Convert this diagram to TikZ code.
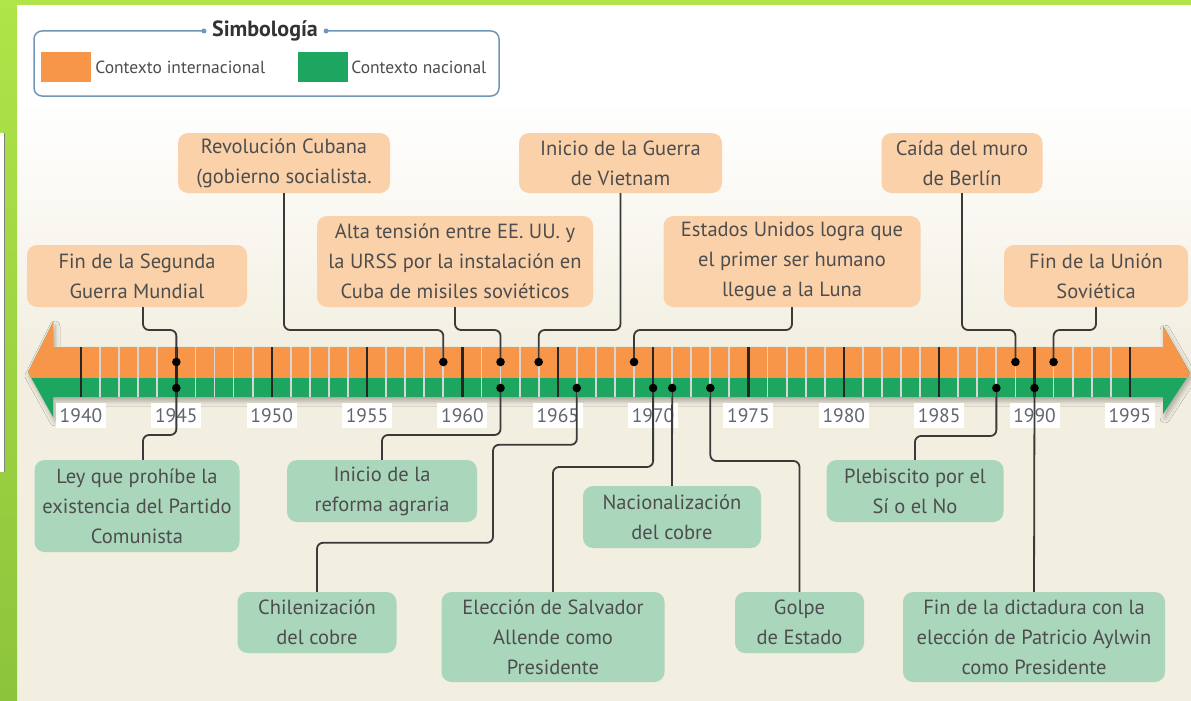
\documentclass[tikz,border=0pt]{standalone}
\usepackage{fontspec}
\setmainfont{PT Sans}
\usetikzlibrary{positioning,shadows.blur}

\definecolor{naranja}{RGB}{247,150,72}
\definecolor{verde}{RGB}{29,166,96}
\definecolor{durazno}{RGB}{251,209,170}
\definecolor{menta}{RGB}{170,214,188}
\definecolor{crema}{RGB}{242,238,224}
\definecolor{lima}{RGB}{176,228,72}
\definecolor{limaosc}{RGB}{140,196,60}
\definecolor{texto}{RGB}{77,77,77}
\definecolor{marco}{RGB}{112,150,185}
\definecolor{linea}{RGB}{58,58,58}
\definecolor{gris}{RGB}{214,214,214}
\definecolor{anios}{RGB}{100,100,112}

\tikzset{
    internacional/.style={fill=durazno, rounded corners=10pt, align=center, inner sep=0pt,
        text=texto, font=\fontsize{20.5}{30}\selectfont},
    nacional/.style={internacional, fill=menta},
    conector/.style={draw=linea, line width=1.8pt, rounded corners=6pt},
    rejilla/.style={draw=gris, line width=1.8pt},
    hito/.style={draw=black!85, line width=2.4pt},
    anio/.style={fill=white, minimum width=50pt, minimum height=25pt, inner sep=0pt,
        text=anios, font=\fontsize{19.5}{20}\selectfont},
    cuadro/.style={minimum width=50pt, minimum height=30pt, inner sep=0pt},
}

\begin{document}
\begin{tikzpicture}[x=1pt,y=-1pt]
            \useasboundingbox (0,0) rectangle (1191,701);
            \fill[white] (0,0) rectangle (1191,701);
            \shade[top color=white, bottom color=crema] (17,100) rectangle (1191,360);
            \fill[crema] (17,360) rectangle (1191,701);
            \shade[top color=lima, bottom color=limaosc] (0,0) rectangle (17,701);
            \fill[lima] (0,0) rectangle (1191,5);
            \fill[white] (0,133) rectangle (4,472);
            \draw[gray, line width=0.8pt] (4,133) -- (4,472);

            % simbologia
            \draw[marco, line width=1.5pt, rounded corners=8pt] (34,31) rectangle (499,96);
            \node[fill=white, inner xsep=8pt, inner ysep=2pt, text=black!80,
                font=\fontsize{22}{24}\bfseries] (titulo) at (265,31) {Simbología};
            \fill[marco] (titulo.west) circle[radius=2.5pt] (titulo.east) circle[radius=2.5pt];
            \node[cuadro, fill=naranja] (cint) at (66,67) {};
            \node[right=4pt of cint, inner sep=0pt, text=texto, font=\fontsize{17.5}{20}\selectfont] (tint) {Contexto internacional};
            \node[cuadro, fill=verde] (cnac) at (323,67) {};
            \node[right=3pt of cnac, inner sep=0pt, text=texto, font=\fontsize{17.5}{20}\selectfont] (tnac) {Contexto nacional};

            % flecha
            \fill[verde, blur shadow={shadow xshift=2pt, shadow yshift=-4pt, shadow blur radius=5pt, shadow opacity=30}]
                (28,372) -- (53,322) -- (53,347) -- (1163,347) -- (1163,326) -- (1190,373)
                -- (1163,414) -- (1163,397) -- (53,397) -- (53,417) -- cycle;
            \begin{scope}
                \clip (0,0) rectangle (1191,377);
                \fill[naranja] (28,372) -- (53,322) -- (53,347) -- (1163,347) -- (1163,326) -- (1190,373)
                    -- (1163,414) -- (1163,397) -- (53,397) -- (53,417) -- cycle;
            \end{scope}
            \foreach \a in {1941,...,1994}
                \draw[rejilla] ({81+(\a-1940)*19.07},347) -- ++(0,50);
            \foreach \a in {1940,1945,...,1995} {
                \draw[hito] ({81+(\a-1940)*19.07},347) -- ++(0,50);
                \node[anio] (a\a) at ({81+(\a-1940)*19.07},415.5) {\a};
            }
            \foreach \a in {1945,1959,1962,1964,1969,1989,1991}
                \coordinate (i\a) at ({81+(\a-1940)*19.07},362);
            \foreach \a in {1945,1962,1966,1970,1971,1973,1988,1990}
                \coordinate (n\a) at ({81+(\a-1940)*19.07},388);

            % contexto internacional
            \node[internacional, minimum width=220pt, minimum height=62pt] (segunda) at (137,276) {Fin de la Segunda\\Guerra Mundial};
            \node[internacional, minimum width=212pt, minimum height=60pt] (cubana) at (284,163) {Revolución Cubana\\(gobierno socialista.};
            \node[internacional, minimum width=276pt, minimum height=91pt] (tension) at (455,261.5) {Alta tensión entre EE. UU. y\\la URSS por la instalación en\\Cuba de misiles soviéticos};
            \node[internacional, minimum width=203pt, minimum height=60pt] (vietnam) at (620.5,163) {Inicio de la Guerra\\de Vietnam};
            \node[internacional, minimum width=257pt, minimum height=91pt] (luna) at (792,261.5) {Estados Unidos logra que\\el primer ser humano\\llegue a la Luna};
            \node[internacional, minimum width=161pt, minimum height=60pt] (berlin) at (962,163) {Caída del muro\\de Berlín};
            \node[internacional, minimum width=184pt, minimum height=62pt] (urss) at (1096,276) {Fin de la Unión\\Soviética};

            % contexto nacional
            \node[nacional, minimum width=205pt, minimum height=92pt] (ley) at (137,506) {Ley que prohíbe la\\existencia del Partido\\Comunista};
            \node[nacional, minimum width=190pt, minimum height=62pt] (agraria) at (382,491) {Inicio de la\\reforma agraria};
            \node[nacional, minimum width=159pt, minimum height=61pt] (chile) at (317,622.5) {Chilenización\\del cobre};
            \node[nacional, minimum width=223pt, minimum height=90pt] (allende) at (553,637) {Elección de Salvador\\Allende como\\Presidente};
            \node[nacional, minimum width=178pt, minimum height=62pt] (cobre) at (672,517) {Nacionalización\\del cobre};
            \node[nacional, minimum width=129pt, minimum height=61pt] (golpe) at (799.5,622.5) {Golpe\\de Estado};
            \node[nacional, minimum width=177pt, minimum height=62pt] (plebiscito) at (915,491) {Plebiscito por el\\Sí o el No};
            \node[nacional, minimum width=262pt, minimum height=90pt] (aylwin) at (1034,637) {Fin de la dictadura con la\\elección de Patricio Aylwin\\como Presidente};

            \draw[conector] ([xshift=6pt]segunda.south) |- ([yshift=32pt]i1945) -- (i1945);
            \draw[conector] (cubana.south) |- ([yshift=32pt]i1959) -- (i1959);
            \draw[conector] (tension.south) |- ([yshift=32pt]i1962) -- (i1962);
            \draw[conector] (vietnam.south) |- ([yshift=32pt]i1964) -- (i1964);
            \draw[conector] (luna.south) |- ([yshift=32pt]i1969) -- (i1969);
            \draw[conector] (berlin.south) |- ([yshift=32pt]i1989) -- (i1989);
            \draw[conector] (urss.south) |- ([yshift=32pt]i1991) -- (i1991);

            \draw[conector] ([xshift=6pt]ley.north) |- ([yshift=-47pt]n1945) -- (n1945);
            \draw[conector] (agraria.north) |- ([yshift=-47pt]n1962) -- (n1962);
            \draw[conector] (chile.north) -- ++(0,-49) -- ++(176,0) -- ++(0,-98) -| (n1966);
            \draw[conector] (allende.north) |- ([yshift=-79pt]n1970) -- (n1970);
            \draw[conector] (cobre.north) -- (n1971);
            \draw[conector] (golpe.north) |- ([yshift=-73pt]n1973) -- (n1973);
            \draw[conector] (plebiscito.north) |- ([yshift=-48pt]n1988) -- (n1988);
            \draw[conector] (aylwin.north) -- (n1990);

            \foreach \p in {i1945,i1959,i1962,i1964,i1969,i1989,i1991,n1945,n1962,n1966,n1970,n1971,n1973,n1988,n1990}
                \fill (\p) circle[radius=4.3pt];
\end{tikzpicture}
\end{document}
